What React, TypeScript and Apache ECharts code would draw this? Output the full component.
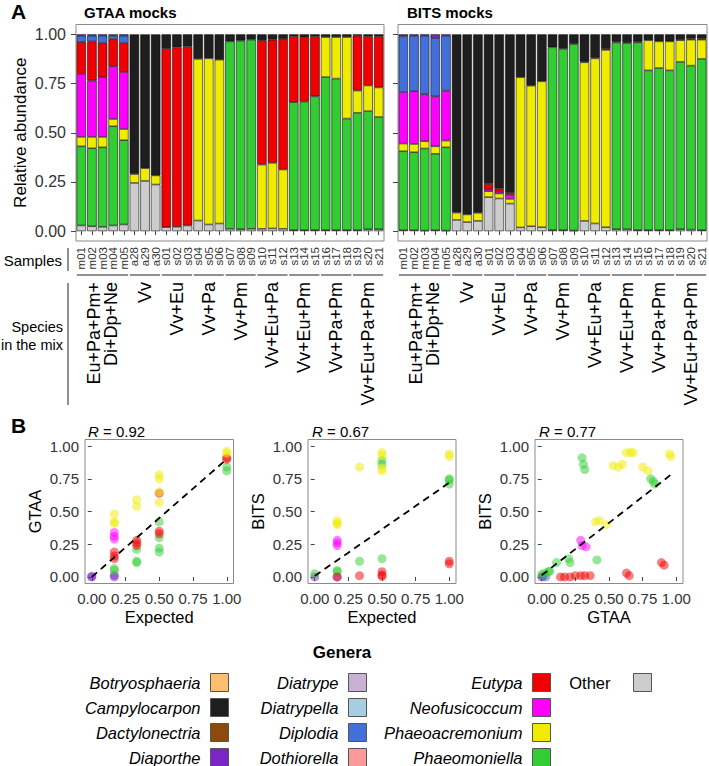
import React, { useEffect, useRef } from 'react';
import * as echarts from 'echarts';

const FONT = '"Liberation Sans", Arial, Helvetica, sans-serif';

const samples = ['m01','m02','m03','m04','m05','a28','a29','a30','s01','s02','s03','s04','s05','s06','s07','s08','s09','s10','s11','s12','s13','s14','s15','s16','s17','s18','s19','s20','s21'];
const groupNames = ['Eu+Pa+Pm+\nDi+Dp+Ne','Vv','Vv+Eu','Vv+Pa','Vv+Pm','Vv+Eu+Pa','Vv+Eu+Pm','Vv+Pa+Pm','Vv+Eu+Pa+Pm'];
const groupStart = [0,5,8,11,14,17,20,23,26];
const groupEnd = [4,7,10,13,16,19,22,25,28];

const genera = ['Botryosphaeria','Campylocarpon','Dactylonectria','Diaporthe','Diatrype','Diatrypella','Diplodia','Dothiorella','Eutypa','Neofusicoccum','Phaeoacremonium','Phaeomoniella','Other'];
const generaColors = ['#FDBF6F','#1E1E1E','#8C4A0C','#7B24C8','#C9B1D6','#A6CEE3','#426FDA','#FB9A99','#F00000','#FF00FF','#F0EC00','#32CD32','#CCCCCC'];
const legendColumns = [
  ['Botryosphaeria','Campylocarpon','Dactylonectria','Diaporthe'],
  ['Diatrype','Diatrypella','Diplodia','Dothiorella'],
  ['Eutypa','Neofusicoccum','Phaeoacremonium','Phaeomoniella'],
  ['Other'],
];

// GTAA mocks relative abundance
const gtaaOther = [0.029,0.025,0.022,0.029,0.034,0.245,0.255,0.237,0.02,0.022,0.029,0.054,0.034,0.039,0.012,0.01,0.012,0.012,0.014,0.012,0.005,0.005,0.005,0.005,0.005,0.005,0.005,0.01,0.01];
const gtaaPhaeomoniella = [0.402,0.396,0.404,0.504,0.428,0,0,0,0,0,0,0,0,0,0.952,0.958,0.961,0,0,0,0.65,0.653,0.68,0.778,0.77,0.567,0.596,0.6,0.57];
const gtaaPhaeoacremonium = [0.048,0.058,0.053,0.037,0.057,0.045,0.065,0.046,0,0,0,0.821,0.844,0.832,0,0,0,0.326,0.333,0.301,0,0,0,0.203,0.211,0.414,0.113,0.13,0.15];
const gtaaNeofusicoccum = [0.321,0.286,0.303,0.268,0.29,0,0,0,0,0,0,0,0,0,0,0,0,0,0,0,0,0,0,0,0,0,0,0,0];
const gtaaEutypa = [0.161,0.199,0.174,0.138,0.147,0,0,0,0.906,0.912,0.91,0,0,0,0,0,0,0.632,0.626,0.663,0.335,0.327,0.305,0,0,0,0.279,0.25,0.26];
const gtaaDiplodia = [0.032,0.029,0.037,0.016,0.037,0,0,0,0,0,0,0,0,0,0,0,0,0,0,0,0,0,0,0,0,0,0,0,0];
const gtaaDiaporthe = [0.007,0.007,0.007,0.008,0.007,0,0,0,0,0,0,0,0,0,0,0,0,0,0,0,0,0,0,0,0,0,0,0,0];
const gtaaCampylocarpon = [0,0,0,0,0,0.71,0.68,0.717,0.074,0.066,0.061,0.125,0.122,0.129,0.036,0.032,0.027,0.03,0.027,0.024,0.01,0.015,0.01,0.014,0.014,0.014,0.007,0.01,0.01];

// BITS mocks relative abundance
const bitsOther = [0.005,0.005,0.003,0.005,0.003,0.057,0.046,0.052,0.173,0.166,0.14,0.019,0.025,0.02,0.005,0.005,0.003,0.052,0.039,0.02,0.01,0.01,0.005,0.005,0.005,0.005,0.01,0.008,0.005];
const bitsPhaeomoniella = [0.401,0.396,0.417,0.388,0.423,0,0,0,0,0,0,0,0,0,0.929,0.922,0.948,0,0,0,0.949,0.946,0.954,0.812,0.824,0.812,0.85,0.833,0.87];
const bitsPhaeoacremonium = [0.039,0.042,0.037,0.038,0.034,0.037,0.039,0.041,0.03,0.025,0.024,0.763,0.714,0.741,0,0,0,0.806,0.839,0.901,0,0,0,0.153,0.135,0.147,0.11,0.132,0.098];
const bitsNeofusicoccum = [0.262,0.268,0.238,0.254,0.254,0,0,0,0.01,0.009,0.02,0,0,0,0,0,0,0,0,0,0,0,0,0,0,0,0,0,0];
const bitsEutypa = [0,0,0,0,0,0,0,0,0.027,0.017,0.011,0,0,0,0,0,0,0.005,0.005,0.005,0.005,0.004,0.005,0,0,0,0.005,0.005,0.005];
const bitsDiplodia = [0.283,0.282,0.298,0.296,0.279,0,0,0,0,0,0,0,0,0,0,0,0,0,0,0,0,0,0,0,0,0,0,0,0];
const bitsDiaporthe = [0.01,0.007,0.007,0.019,0.007,0,0,0,0,0,0,0,0,0,0,0,0,0,0,0,0,0,0,0,0,0,0,0,0];
const bitsCampylocarpon = [0,0,0,0,0,0.906,0.915,0.907,0.76,0.783,0.805,0.218,0.261,0.239,0.066,0.073,0.049,0.137,0.117,0.074,0.036,0.04,0.036,0.03,0.036,0.036,0.025,0.022,0.022];

// Panel B scatter points: [x, y]
const p1Diaporthe = [[0,0],[0,0.005],[0.167,0.013],[0.167,0]];
const p1Phaeoacremonium = [[0.167,0.48],[0.167,0.42],[0.167,0.41],[0.333,0.59],[0.333,0.54],[0.5,0.78],[0.5,0.75],[0.5,0.65],[0.5,0.57],[1,0.96],[1,0.945]];
const p1Neofusicoccum = [[0.167,0.34],[0.167,0.31],[0.167,0.29]];
const p1Eutypa = [[0.167,0.19],[0.167,0.16],[0.167,0.14],[0.333,0.28],[0.333,0.26],[0.333,0.24],[0.5,0.64],[0.5,0.35],[0.5,0.33],[1,0.91],[1,0.9]];
const p1Phaeomoniella = [[0.167,0.064],[0.167,0.05],[0.333,0.21],[0.333,0.12],[0.333,0.11],[0.5,0.42],[0.5,0.3],[0.5,0.22],[0.5,0.19],[1,0.84],[1,0.81]];

const p2Diaporthe = [[0,0],[0.167,0]];
const p2Phaeomoniella = [[0,0.025],[0.167,0.05],[0.167,0.04],[0.333,0.12],[0.5,0.89],[0.5,0.86],[0.5,0.14],[1,0.75],[1,0.74],[1,0.71]];
const p2Phaeoacremonium = [[0.167,0.43],[0.167,0.41],[0.167,0.4],[0.333,0.84],[0.5,0.95],[0.5,0.93],[0.5,0.83],[0.5,0.81],[1,0.94],[1,0.92]];
const p2Neofusicoccum = [[0.167,0.28],[0.167,0.26],[0.167,0.24]];
const p2Eutypa = [[0.167,0],[0.333,0.01],[0.5,0.04],[0.5,0.015],[0.5,0.005],[1,0.12],[1,0.1]];

const p3Diaporthe = [[0,0],[0.01,0.005]];
const p3Diplodia = [[0.03,0]];
const p3Phaeomoniella = [[0,0.02],[0.025,0.03],[0.05,0.04],[0.06,0.045],[0.11,0.11],[0.2,0.14],[0.21,0.11],[0.41,0.13],[0.3,0.91],[0.31,0.86],[0.32,0.82],[0.81,0.75],[0.83,0.73],[0.84,0.71]];
const p3Phaeoacremonium = [[0.4,0.42],[0.43,0.43],[0.48,0.4],[0.53,0.85],[0.57,0.84],[0.6,0.86],[0.63,0.95],[0.66,0.95],[0.68,0.95],[0.75,0.84],[0.79,0.81],[0.95,0.94],[0.96,0.92]];
const p3Neofusicoccum = [[0.29,0.28],[0.3,0.24],[0.33,0.23]];
const p3Eutypa = [[0.14,0],[0.17,0],[0.21,0],[0.25,0.01],[0.29,0.01],[0.32,0.01],[0.36,0.01],[0.63,0.03],[0.65,0.01],[0.89,0.11],[0.91,0.09]];

const rValues = [0.92, 0.67, 0.77];
const fitIntercept = [0.0, 0.008, 0.013];
const fitSlope = [0.9, 0.712, 0.8];
const fitXMax = [1, 1, 0.96];
const scatterXNames = ['Expected', 'Expected', 'GTAA'];
const scatterYNames = ['GTAA', 'BITS', 'BITS'];
const tickValues = [0, 0.25, 0.5, 0.75, 1];

const gtaaByGenus: Record<string, number[]> = {
  Other: gtaaOther, Phaeomoniella: gtaaPhaeomoniella, Phaeoacremonium: gtaaPhaeoacremonium,
  Neofusicoccum: gtaaNeofusicoccum, Eutypa: gtaaEutypa, Diplodia: gtaaDiplodia,
  Diaporthe: gtaaDiaporthe, Campylocarpon: gtaaCampylocarpon,
};
const bitsByGenus: Record<string, number[]> = {
  Other: bitsOther, Phaeomoniella: bitsPhaeomoniella, Phaeoacremonium: bitsPhaeoacremonium,
  Neofusicoccum: bitsNeofusicoccum, Eutypa: bitsEutypa, Diplodia: bitsDiplodia,
  Diaporthe: bitsDiaporthe, Campylocarpon: bitsCampylocarpon,
};
const scatterPanels: Record<string, number[][]>[] = [
  { Diaporthe: p1Diaporthe, Phaeomoniella: p1Phaeomoniella, Neofusicoccum: p1Neofusicoccum, Eutypa: p1Eutypa, Phaeoacremonium: p1Phaeoacremonium },
  { Diaporthe: p2Diaporthe, Phaeomoniella: p2Phaeomoniella, Neofusicoccum: p2Neofusicoccum, Eutypa: p2Eutypa, Phaeoacremonium: p2Phaeoacremonium },
  { Diaporthe: p3Diaporthe, Diplodia: p3Diplodia, Phaeomoniella: p3Phaeomoniella, Neofusicoccum: p3Neofusicoccum, Eutypa: p3Eutypa, Phaeoacremonium: p3Phaeoacremonium },
];

const colorOf: Record<string, string> = {};
genera.forEach((g, i) => { colorOf[g] = generaColors[i]; });

function buildOption() {
  const stackOrder = [...genera].reverse();
  const series: any[] = [];

  [gtaaByGenus, bitsByGenus].forEach((byGenus, gi) => {
    stackOrder.forEach((g) => {
      const vals = byGenus[g] || [];
      series.push({
        type: 'bar', name: g, xAxisIndex: gi, yAxisIndex: gi, stack: 'stack' + gi,
        barWidth: 9.5, silent: true,
        data: samples.map((_, i) => (vals[i] ? vals[i] : null)),
        itemStyle: { color: colorOf[g], borderColor: '#111', borderWidth: 0.6 },
      });
    });
    series.push({
      type: 'custom', name: 'groups' + gi, xAxisIndex: gi, yAxisIndex: gi, silent: true, clip: false,
      encode: { x: 0, y: 1 },
      data: groupStart.map((s, i) => [s, 0, groupEnd[i]]),
      renderItem: (params: any, api: any) => {
        const s = api.value(0);
        const e = api.value(2);
        const cs = params.coordSys;
        const bottom = cs.y + cs.height;
        const ps = api.coord([s, 0]);
        const pe = api.coord([e, 0]);
        const bw = api.size([1, 0])[0];
        const ly = bottom + 34;
        return {
          type: 'group',
          children: [
            { type: 'line', shape: { x1: ps[0] - bw * 0.42, y1: ly, x2: pe[0] + bw * 0.42, y2: ly }, style: { stroke: '#222', lineWidth: 1 } },
            {
              type: 'text', x: (ps[0] + pe[0]) / 2, y: ly + 7, rotation: Math.PI / 2,
              style: {
                text: groupNames[params.dataIndex], fill: '#000', fontSize: 18, fontFamily: FONT,
                align: 'right', textAlign: 'right', verticalAlign: 'middle', textVerticalAlign: 'middle', lineHeight: 17,
              },
            },
          ],
        };
      },
    });
  });

  scatterPanels.forEach((panel, pi) => {
    const ai = 2 + pi;
    Object.keys(panel).forEach((g) => {
      series.push({
        type: 'scatter', name: g, xAxisIndex: ai, yAxisIndex: ai, silent: true,
        symbolSize: 9, data: panel[g],
        itemStyle: { color: colorOf[g], opacity: 0.5 },
      });
    });
    series.push({
      type: 'line', name: 'fit' + pi, xAxisIndex: ai, yAxisIndex: ai, silent: true, symbol: 'none',
      data: [[0, fitIntercept[pi]], [fitXMax[pi], fitIntercept[pi] + fitSlope[pi] * fitXMax[pi]]],
      lineStyle: { color: '#000', width: 1.8, type: [7, 5] }, z: 5,
    });
  });

  const barGrids = [
    { left: 76, top: 24.5, width: 308, height: 216.5 },
    { left: 398, top: 24.5, width: 309, height: 216.5 },
  ];
  const scatterGrids = [
    { left: 85, top: 439.5, width: 148.5, height: 144 },
    { left: 308, top: 439.5, width: 148, height: 144 },
    { left: 535, top: 439.5, width: 148, height: 144 },
  ];
  const grid = [...barGrids, ...scatterGrids].map((g) => ({ ...g, show: true, borderColor: '#8a8a8a', borderWidth: 1, backgroundColor: 'transparent' }));

  const tickFmt = (v: number) => v.toFixed(2);
  const xAxis: any[] = [];
  const yAxis: any[] = [];
  [0, 1].forEach((gi) => {
    xAxis.push({
      type: 'category', gridIndex: gi, data: samples,
      axisLine: { show: false },
      axisTick: { show: true, alignWithLabel: true, length: 4, lineStyle: { color: '#444' } },
      axisLabel: { interval: 0, rotate: 90, fontSize: 11.5, color: '#333', fontFamily: FONT, margin: 6 },
    });
    yAxis.push({
      type: 'value', gridIndex: gi, min: -0.05, max: 1.05,
      splitLine: { show: false },
      axisLine: { show: false },
      axisTick: { show: true, length: 5, lineStyle: { color: '#444' }, customValues: tickValues },
      axisLabel: { show: gi === 0, fontSize: 16, color: '#333', fontFamily: FONT, margin: 10, customValues: tickValues, formatter: tickFmt },
      name: gi === 0 ? 'Relative abundance' : '', nameLocation: 'middle', nameGap: 47, nameRotate: 90,
      nameTextStyle: { fontSize: 17, color: '#000', fontFamily: FONT },
    });
  });
  [0, 1, 2].forEach((pi) => {
    const gi = 2 + pi;
    xAxis.push({
      type: 'value', gridIndex: gi, min: -0.05, max: 1.05,
      splitLine: { show: false }, axisLine: { show: false },
      axisTick: { show: true, length: 4, lineStyle: { color: '#444' }, customValues: tickValues },
      axisLabel: { fontSize: 15, color: '#333', fontFamily: FONT, margin: 7, customValues: tickValues, formatter: tickFmt },
      name: scatterXNames[pi], nameLocation: 'middle', nameGap: 25,
      nameTextStyle: { fontSize: 16.5, color: '#000', fontFamily: FONT },
    });
    yAxis.push({
      type: 'value', gridIndex: gi, min: -0.05, max: 1.05,
      splitLine: { show: false }, axisLine: { show: false },
      axisTick: { show: true, length: 4, lineStyle: { color: '#444' }, customValues: tickValues },
      axisLabel: { fontSize: 15, color: '#333', fontFamily: FONT, margin: 6, customValues: tickValues, formatter: tickFmt },
      name: scatterYNames[pi], nameLocation: 'middle', nameGap: 42, nameRotate: 90,
      nameTextStyle: { fontSize: 16.5, color: '#000', fontFamily: FONT },
    });
  });

  const legendRight = [480, 342, 158, 57];
  const legend = legendColumns.map((col, ci) => ({
    orient: 'vertical', align: 'right', right: legendRight[ci], top: 673, height: 130, padding: 0,
    itemWidth: 18, itemHeight: 18, itemGap: 6, icon: 'rect', selectedMode: false,
    itemStyle: { borderColor: '#555', borderWidth: 1 },
    textStyle: { fontSize: 16.5, color: '#000', fontFamily: FONT, padding: [0, ci === 3 ? 18 : 5, 0, 0] },
    data: col.map((name) => ({ name, textStyle: { fontStyle: name === 'Other' ? 'normal' : 'italic' } })),
  }));

  const bold = { fontWeight: 'bold', color: '#000', fontFamily: FONT };
  const rLeft = [88, 312, 539];
  const title: any[] = [
    { text: 'A', left: 11, top: 1, padding: 0, textStyle: { ...bold, fontSize: 21 } },
    { text: 'GTAA mocks', left: 84, top: 5, padding: 0, textStyle: { ...bold, fontSize: 15 } },
    { text: 'BITS mocks', left: 407, top: 5, padding: 0, textStyle: { ...bold, fontSize: 15 } },
    { text: 'B', left: 11, top: 415, padding: 0, textStyle: { ...bold, fontSize: 21 } },
    { text: 'Genera', left: 342, textAlign: 'center', top: 644, padding: 0, textStyle: { ...bold, fontSize: 17 } },
    ...rValues.map((r, i) => ({
      text: '{i|R} = ' + r.toFixed(2), left: rLeft[i], top: 424, padding: 0,
      textStyle: {
        fontSize: 15, fontWeight: 'normal', color: '#000', fontFamily: FONT,
        rich: { i: { fontStyle: 'italic', fontWeight: 'normal', fontSize: 15, color: '#000', fontFamily: FONT } },
      },
    })),
  ];

  const graphic: any[] = [
    { type: 'text', x: 62, y: 260, style: { text: 'Samples', fontSize: 15, fontFamily: FONT, fill: '#000', align: 'right', textAlign: 'right', verticalAlign: 'middle', textVerticalAlign: 'middle' } },
    { type: 'line', shape: { x1: 68, y1: 248, x2: 68, y2: 271 }, style: { stroke: '#222', lineWidth: 1 } },
    { type: 'text', x: 63, y: 336, style: { text: 'Species\nin the mix', fontSize: 14.5, lineHeight: 18, fontFamily: FONT, fill: '#000', align: 'right', textAlign: 'right', verticalAlign: 'middle', textVerticalAlign: 'middle' } },
    { type: 'line', shape: { x1: 68, y1: 283, x2: 68, y2: 405 }, style: { stroke: '#222', lineWidth: 1 } },
  ];

  return {
    animation: false,
    backgroundColor: '#fff',
    textStyle: { fontFamily: FONT },
    title, legend, grid, xAxis, yAxis, series, graphic,
  };
}

export default function App() {
  const ref = useRef<HTMLDivElement>(null);
  useEffect(() => {
    if (!ref.current) return;
    const chart = echarts.init(ref.current, undefined, { renderer: 'svg' });
    chart.setOption(buildOption() as any);
    return () => chart.dispose();
  }, []);
  return <div ref={ref} style={{ position: 'absolute', left: 0, top: 0, width: 709, height: 766, background: '#fff' }} />;
}
